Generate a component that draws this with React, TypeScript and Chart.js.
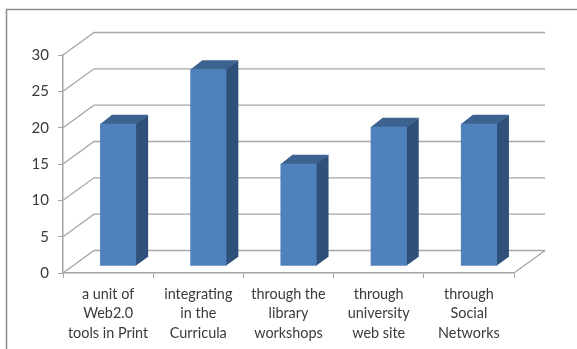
import React, { useEffect, useRef } from "react";
import { Chart, registerables } from "chart.js";

Chart.register(...registerables);

const categories = [
  ["a unit of", "Web2.0", "tools in Print"],
  ["integrating", "in the", "Curricula"],
  ["through the", "library", "workshops"],
  ["through", "university", "web site"],
  ["through", "Social", "Networks"],
];
const seriesValues = [19.6, 27.1, 14.1, 19.2, 19.6];
const yTicks = [0, 5, 10, 15, 20, 25, 30];

const WALL_DX = 31;
const WALL_DY = -22.5;
const BAR_DX = 10;
const BAR_DY = -6.7;
const SIDE_DX = 12;
const SIDE_DY = -9;
const GRID = "#a6a6a6";
const TEXT = "#3a3a3a";

// Back wall, floor edges and the outer border of the chart.
const wallPlugin = {
  id: "wall",
  beforeDatasetsDraw(chart: any) {
    const { ctx, scales, width, height } = chart;
    const { x, y } = scales;
    const left = x.left;
    const right = x.right;
    ctx.save();
    ctx.strokeStyle = "#8c8c8c";
    ctx.lineWidth = 1.5;
    ctx.beginPath();
    ctx.moveTo(width + 2, 9.5);
    ctx.lineTo(6.5, 9.5);
    ctx.lineTo(6.5, height + 2);
    ctx.stroke();
    ctx.strokeStyle = GRID;
    ctx.lineWidth = 1.3;
    for (const tick of yTicks) {
      const py = y.getPixelForValue(tick);
      ctx.beginPath();
      ctx.moveTo(left, py);
      ctx.lineTo(left + WALL_DX, py + WALL_DY);
      ctx.lineTo(right + WALL_DX, py + WALL_DY);
      ctx.stroke();
    }
    const floor = y.getPixelForValue(0);
    ctx.beginPath();
    ctx.moveTo(right, floor);
    ctx.lineTo(right + WALL_DX, floor + WALL_DY);
    ctx.stroke();
    ctx.restore();
  },
  beforeDatasetDraw(chart: any) {
    const { ctx } = chart;
    const bars = chart.getDatasetMeta(0).data;
    ctx.save();
    ctx.translate(BAR_DX, BAR_DY);
    for (const bar of bars) {
      const { x, y, base, width } = bar.getProps(["x", "y", "base", "width"], true);
      const r = x + width / 2;
      const l = x - width / 2;
      ctx.fillStyle = "#2f5078";
      ctx.beginPath();
      ctx.moveTo(r - 0.5, y);
      ctx.lineTo(r + SIDE_DX, y + SIDE_DY);
      ctx.lineTo(r + SIDE_DX, base + SIDE_DY);
      ctx.lineTo(r - 0.5, base);
      ctx.closePath();
      ctx.fill();
      ctx.fillStyle = "#3c6290";
      ctx.beginPath();
      ctx.moveTo(l, y + 0.5);
      ctx.lineTo(l + SIDE_DX, y + SIDE_DY);
      ctx.lineTo(r + SIDE_DX, y + SIDE_DY);
      ctx.lineTo(r, y + 0.5);
      ctx.closePath();
      ctx.fill();
    }
  },
  afterDatasetDraw(chart: any) {
    chart.ctx.restore();
  },
};

export default function App() {
  const ref = useRef<HTMLCanvasElement | null>(null);

  useEffect(() => {
    const chart = new Chart(ref.current as HTMLCanvasElement, {
      type: "bar",
      data: {
        labels: categories as any,
        datasets: [
          {
            data: seriesValues,
            backgroundColor: "#4f81bd",
            barPercentage: 0.4,
            categoryPercentage: 1,
          },
        ],
      },
      options: {
        responsive: false,
        animation: false,
        layout: { padding: { left: 0, right: 63, top: 55, bottom: 0 } },
        plugins: { legend: { display: false }, tooltip: { enabled: false } },
        scales: {
          x: {
            offset: true,
            border: { color: GRID, width: 1.5 },
            grid: { offset: true, drawOnChartArea: false, color: GRID, tickLength: 5 },
            ticks: {
              color: TEXT,
              font: { family: "Lato", size: 14.4, lineHeight: 1.37 },
              maxRotation: 0,
              autoSkip: false,
              padding: 6,
            },
            afterFit(scale: any) {
              scale.height = 76;
            },
          },
          y: {
            min: 0,
            max: 30,
            border: { color: GRID, width: 1.5 },
            grid: { drawOnChartArea: false, color: GRID, tickLength: 5 },
            ticks: {
              stepSize: 5,
              color: TEXT,
              font: { family: "Lato", size: 15 },
              padding: 9,
            },
            afterFit(scale: any) {
              scale.width = 63;
            },
          },
        },
      },
      plugins: [wallPlugin],
    });
    return () => chart.destroy();
  }, []);

  return (
    <div style={{ position: "absolute", left: 0, top: 0, width: 577, height: 349, background: "#fff" }}>
      <canvas ref={ref} width={577} height={349} style={{ display: "block" }} />
    </div>
  );
}
